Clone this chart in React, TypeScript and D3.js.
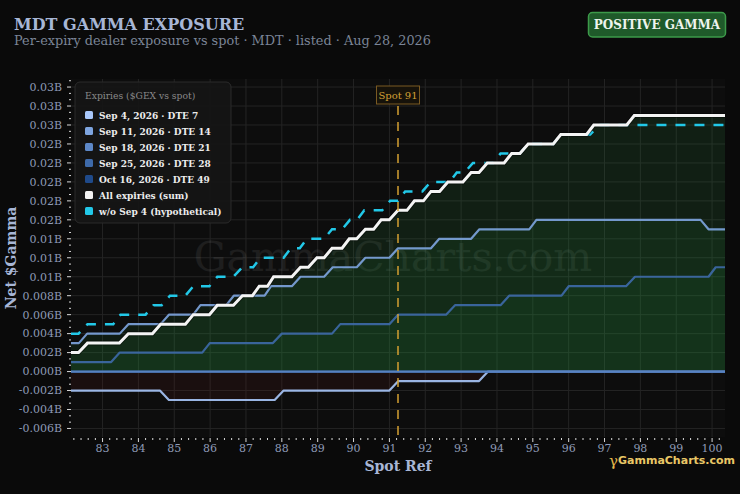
import * as d3 from 'd3';

// vertices: [spot, net gamma in $M]
const SEP4: [number, number][] = [
  [82.12, -2], [84.6, -2], [84.85, -3], [87.8, -3], [88.05, -2], [91.0, -2],
  [91.25, -1], [93.5, -1], [93.75, 0], [100.36, 0],
];
const SEP11: [number, number][] = [
  [82.12, 3], [82.34, 3], [82.57, 4], [83.48, 4], [83.72, 5], [84.62, 5], [84.85, 6],
  [85.53, 6], [85.73, 7], [86.45, 7], [86.66, 8], [87.52, 8], [87.7, 9], [88.28, 9],
  [88.52, 10], [89.18, 10], [89.42, 11], [90.09, 11], [90.33, 12], [91.0, 12],
  [91.24, 13], [92.16, 13], [92.39, 14], [93.28, 14], [93.51, 15], [94.9, 15],
  [95.1, 16], [99.68, 16], [99.9, 15], [100.36, 15],
];
const SEP18: [number, number][] = [[82.12, 0], [100.36, 0]];
const SEP25: [number, number][] = [
  [82.12, 1], [83.24, 1], [83.48, 2], [85.78, 2], [85.99, 3], [87.75, 3], [88.0, 4],
  [89.4, 4], [89.63, 5], [91.0, 5], [91.24, 6], [92.58, 6], [92.83, 7], [94.1, 7],
  [94.34, 8], [95.8, 8], [96.0, 9], [97.6, 9], [97.85, 10], [99.9, 10], [100.1, 11],
  [100.36, 11],
];
const OCT16: [number, number][] = [[82.12, 0], [100.36, 0]];
const TOTAL: [number, number][] = [
  [82.12, 2], [82.33, 2], [82.58, 3], [83.47, 3], [83.72, 4], [84.39, 4], [84.62, 5],
  [85.31, 5], [85.53, 6], [85.98, 6], [86.2, 7], [86.65, 7], [86.9, 8], [87.18, 8],
  [87.37, 9], [87.6, 9], [87.77, 10], [88.28, 10], [88.52, 11], [88.74, 11], [88.98, 12],
  [89.18, 12], [89.4, 13], [89.68, 13], [89.88, 14], [90.09, 14], [90.33, 15], [90.56, 15],
  [90.77, 16], [91.0, 16], [91.24, 17], [91.49, 17], [91.7, 18], [91.95, 18], [92.16, 19],
  [92.4, 19], [92.63, 20], [93.05, 20], [93.28, 21], [93.5, 21], [93.73, 22], [94.2, 22],
  [94.41, 23], [94.64, 23], [94.87, 24], [95.57, 24], [95.78, 25], [96.5, 25], [96.7, 26],
  [97.62, 26], [97.83, 27], [100.36, 27],
];
const WITHOUT_SEP4: [number, number][] = [
  [82.12, 4], [82.33, 4], [82.58, 5], [83.3, 5], [83.5, 6], [84.2, 6], [84.42, 7],
  [84.65, 7], [84.88, 8], [85.31, 8], [85.53, 9], [85.98, 9], [86.2, 10], [86.65, 10],
  [86.9, 11], [87.2, 11], [87.4, 12], [88.05, 12], [88.25, 13], [88.5, 13], [88.7, 14],
  [89.18, 14], [89.4, 15], [89.68, 15], [89.9, 16], [90.1, 16], [90.3, 17], [90.8, 17],
  [91.02, 18], [91.24, 18], [91.44, 19], [91.92, 19], [92.15, 20], [92.68, 20],
  [92.88, 21], [93.1, 21], [93.33, 22], [93.9, 22], [94.1, 23], [94.64, 23], [94.87, 24],
  [95.57, 24], [95.78, 25], [96.6, 25], [96.85, 26], [100.36, 26],
];

const SPOT = 91.24;
const X_DOMAIN = [82.12, 100.36];
const Y_DOMAIN = [-6.9, 30.85];
const X_TICKS = d3.range(83, 101, 1);
const Y_TICKS = d3.range(-6, 31, 2);

const EXPIRIES = [
  { label: 'Sep 4, 2026 · DTE 7', color: '#a9c8fb', data: SEP4 },
  { label: 'Sep 11, 2026 · DTE 14', color: '#7ea5e0', data: SEP11 },
  { label: 'Sep 18, 2026 · DTE 21', color: '#5d88c8', data: SEP18 },
  { label: 'Sep 25, 2026 · DTE 28', color: '#3e6aaa', data: SEP25 },
  { label: 'Oct 16, 2026 · DTE 49', color: '#1f4a8a', data: OCT16 },
];
// which expiry gets painted first (the nearest one sits underneath)
const DRAW_ORDER = [0, 4, 3, 1, 2];

const W = 740;
const H = 494;
const margin = { top: 79, right: 15, bottom: 57, left: 71 };
const SERIF = '"DejaVu Serif", serif';
const SERIF_COND = '"DejaVu Serif Condensed", "DejaVu Serif", serif';

function fmtB(v: number) {
  const b = v / 1000;
  return (Math.abs(v) >= 10 ? b.toFixed(2) : b.toFixed(3)) + 'B';
}

export default function App() {
  const iw = W - margin.left - margin.right;
  const ih = H - margin.top - margin.bottom;

  const x = d3.scaleLinear().domain(X_DOMAIN).range([0, iw]);
  const y = d3.scaleLinear().domain(Y_DOMAIN).range([ih, 0]);

  const line = d3.line<[number, number]>().x(d => x(d[0])).y(d => y(d[1]));
  const area = d3.area<[number, number]>().x(d => x(d[0])).y0(y(0)).y1(d => y(d[1]));

  const xMinor = d3.range(82.2, 100.36, 0.2).filter(v => Math.abs(v - Math.round(v)) > 0.05);
  const yMinor = d3.range(-6, 30.9, 2 / 3).filter(v => Math.abs(v / 2 - Math.round(v / 2)) > 0.05);

  const legendRows = [
    ...EXPIRIES.map(e => ({ label: e.label, color: e.color })),
    { label: 'All expiries (sum)', color: '#f2f2f2' },
    { label: 'w/o Sep 4 (hypothetical)', color: '#22c8e8' },
  ];

  return (
    <svg width={W} height={H} style={{ position: 'absolute', left: 0, top: 0, background: '#0a0a0a' }}>
      <rect width={W} height={H} fill="#0a0a0a" />

      {/* header */}
      <text x={14} y={30} fontFamily={SERIF} fontSize={16} fontWeight="bold" fill="#a7b6d6">
        MDT GAMMA EXPOSURE
      </text>
      <text x={14} y={45} fontFamily={SERIF} fontSize={12.85} fill="#7b8597">
        Per-expiry dealer exposure vs spot · MDT · listed · Aug 28, 2026
      </text>
      <rect x={588.5} y={12.5} width={137} height={24.5} rx={4} fill="#1f5a2a" stroke="#3c9a4a" strokeWidth={1.5} />
      <text x={657} y={29} textAnchor="middle" fontFamily={SERIF} fontSize={12} fontWeight="bold" fill="#eef4ee">
        POSITIVE GAMMA
      </text>

      <g transform={`translate(${margin.left},${margin.top})`}>
        <rect width={iw} height={ih} fill="#0d0d0d" />

        {/* grid */}
        {X_TICKS.map(t => (
          <line key={'gx' + t} x1={x(t)} x2={x(t)} y1={0} y2={ih} stroke="#242424" />
        ))}
        {Y_TICKS.map(t => (
          <line key={'gy' + t} x1={0} x2={iw} y1={y(t)} y2={y(t)} stroke="#242424" />
        ))}

        <text x={x(91.1)} y={y(10.6)} textAnchor="middle" fontFamily={SERIF} fontSize={41} fill="#ffffff" opacity={0.07}>
          GammaCharts.com
        </text>

        {/* fills */}
        <path d={area(SEP4) || ''} fill="#5a1a1a" opacity={0.18} />
        <path d={area(TOTAL) || ''} fill="#2c9a46" opacity={0.13} />
        <path d={area(SEP11) || ''} fill="#2c9a46" opacity={0.1} />
        <path d={area(SEP25) || ''} fill="#2c9a46" opacity={0.08} />

        {/* per-expiry lines */}
        {DRAW_ORDER.map(i => EXPIRIES[i]).map(e => (
          <path key={e.label} d={line(e.data) || ''} fill="none" stroke={e.color} strokeWidth={2.2} strokeLinejoin="round" opacity={0.9} />
        ))}

        <path d={line(WITHOUT_SEP4) || ''} fill="none" stroke="#22c8e8" strokeWidth={2.5} strokeDasharray="10,9" />
        <path d={line(TOTAL) || ''} fill="none" stroke="#000" strokeOpacity={0.35} strokeWidth={5} />
        <path d={line(TOTAL) || ''} fill="none" stroke="#f4f4f4" strokeWidth={3} />

        {/* spot */}
        <line x1={x(SPOT)} x2={x(SPOT)} y1={27} y2={ih} stroke="#d4a032" strokeWidth={1.5} strokeDasharray="9,7" />
        <rect x={x(SPOT) - 21.5} y={7} width={43} height={18} fill="#16120a" stroke="#7a5a22" />
        <text x={x(SPOT)} y={19.5} textAnchor="middle" fontFamily={SERIF} fontSize={10} fill="#d2a035">
          Spot 91
        </text>

        {/* y axis */}
        {Y_TICKS.map(t => (
          <g key={'yt' + t}>
            <line x1={-4} x2={0} y1={y(t)} y2={y(t)} stroke="#d8d8d8" />
            <text x={-9} y={y(t)} dy="0.35em" textAnchor="end" fontFamily={SERIF} fontSize={11} fill="#8e9ab6">
              {fmtB(t)}
            </text>
          </g>
        ))}
        {yMinor.map(t => (
          <line key={'ym' + t} x1={-2} x2={0} y1={y(t)} y2={y(t)} stroke="#d8d8d8" />
        ))}

        {/* x axis */}
        {X_TICKS.map(t => (
          <g key={'xt' + t}>
            <line x1={x(t)} x2={x(t)} y1={ih + 1} y2={ih + 5} stroke="#d8d8d8" />
            <text x={x(t)} y={ih + 15} textAnchor="middle" fontFamily={SERIF} fontSize={11} fill="#8e9ab6">
              {t}
            </text>
          </g>
        ))}
        {xMinor.map(t => (
          <line key={'xm' + t} x1={x(t)} x2={x(t)} y1={ih + 1} y2={ih + 3} stroke="#d8d8d8" />
        ))}

        <text x={iw / 2} y={ih + 34} textAnchor="middle" fontFamily={SERIF} fontSize={14} fontWeight="bold" fill="#a7b6d6">
          Spot Ref
        </text>
        <text transform={`translate(${-55},${ih / 2}) rotate(-90)`} textAnchor="middle" fontFamily={SERIF} fontSize={14} fontWeight="bold" fill="#a7b6d6">
          Net $Gamma
        </text>

        {/* legend */}
        <g transform="translate(4,3)">
          <rect width={156} height={141} rx={5} fill="#151515" fillOpacity={0.94} stroke="#2b2b2b" />
          <text x={10} y={17} fontFamily={SERIF} fontSize={9.2} fill="#8a8a8a">
            Expiries ($GEX vs spot)
          </text>
          {legendRows.map((r, i) => (
            <g key={r.label} transform={`translate(10,${33 + i * 16})`}>
              <rect x={0} y={-4} width={8} height={8} rx={1.5} fill={r.color} />
              <text x={14} y={0} dy="0.35em" fontFamily={SERIF_COND} fontSize={10} fontWeight="bold" fill="#ececec">
                {r.label}
              </text>
            </g>
          ))}
        </g>
      </g>

      {/* logo */}
      <text x={609} y={466} fontFamily={SERIF} fontSize={15} fill="#e2b84a">γ</text>
      <text x={618} y={464} fontFamily='"DejaVu Sans", sans-serif' fontSize={11} fontWeight="bold" fill="#e9c766">
        GammaCharts.com
      </text>
    </svg>
  );
}
